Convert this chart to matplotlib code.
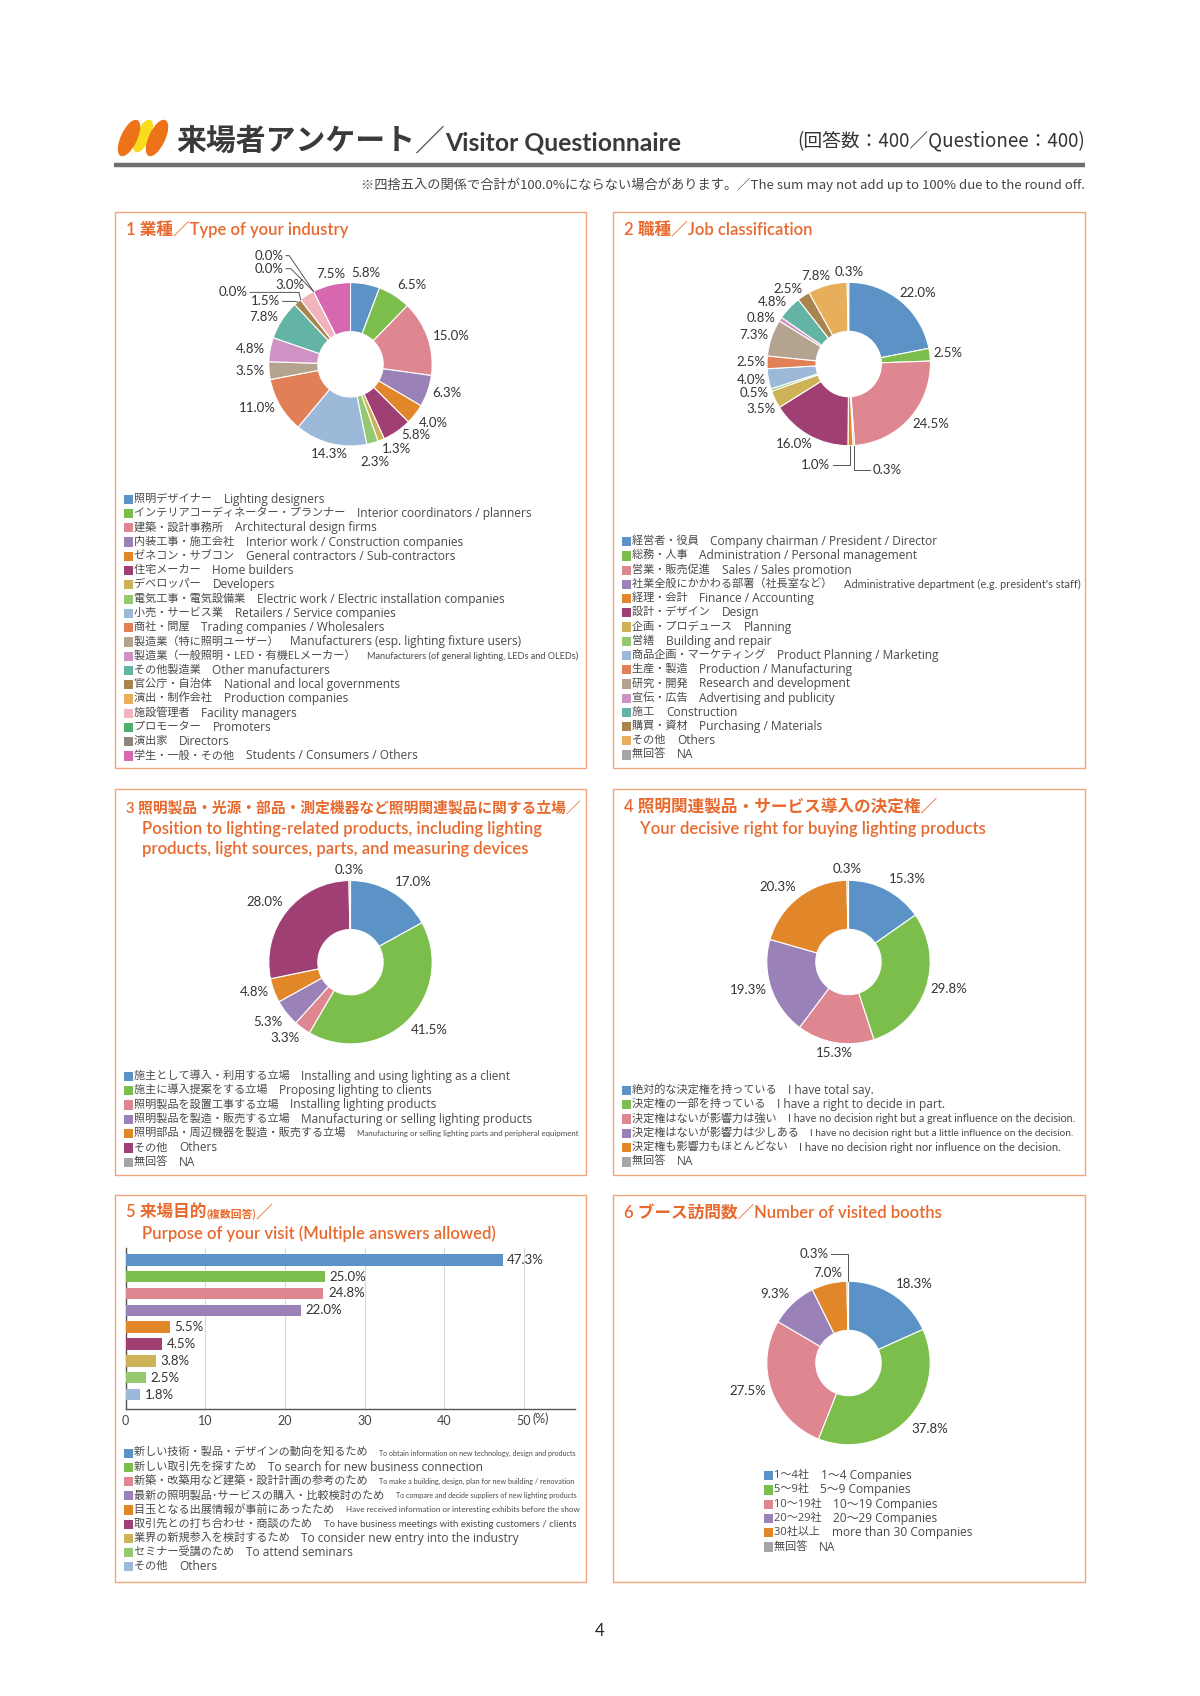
import numpy as np
import matplotlib
matplotlib.use("Agg")
import matplotlib.pyplot as plt
from matplotlib.patches import Rectangle, Ellipse
from matplotlib import font_manager as fm

# ---- data ----
ind_values = [5.8, 6.5, 15.0, 6.3, 4.0, 5.8, 1.3, 2.3, 14.3, 11.0, 3.5, 4.8, 7.8, 1.5, 0.0, 3.0, 0.0, 0.0, 7.5]
ind_jp = ["照明デザイナー", "インテリアコーディネーター・プランナー", "建築・設計事務所", "内装工事・施工会社",
          "ゼネコン・サブコン", "住宅メーカー", "デベロッパー", "電気工事・電気設備業", "小売・サービス業",
          "商社・問屋", "製造業（特に照明ユーザー）", "製造業（一般照明・LED・有機ELメーカー）", "その他製造業",
          "官公庁・自治体", "演出・制作会社", "施設管理者", "プロモーター", "演出家", "学生・一般・その他"]
ind_en = ["Lighting designers", "Interior coordinators / planners", "Architectural design firms",
          "Interior work / Construction companies", "General contractors / Sub-contractors", "Home builders",
          "Developers", "Electric work / Electric installation companies", "Retailers / Service companies",
          "Trading companies / Wholesalers", "Manufacturers (esp. lighting fixture users)",
          "Manufacturers (of general lighting, LEDs and OLEDs)", "Other manufacturers",
          "National and local governments", "Production companies", "Facility managers", "Promoters",
          "Directors", "Students / Consumers / Others"]

job_values = [22.0, 2.5, 24.5, 0.3, 1.0, 16.0, 3.5, 0.5, 4.0, 2.5, 7.3, 0.8, 4.8, 2.5, 7.8, 0.3]
job_jp = ["経営者・役員", "総務・人事", "営業・販売促進", "社業全般にかかわる部署（社長室など）", "経理・会計",
          "設計・デザイン", "企画・プロデュース", "営繕", "商品企画・マーケティング", "生産・製造", "研究・開発",
          "宣伝・広告", "施工", "購買・資材", "その他", "無回答"]
job_en = ["Company chairman / President / Director", "Administration / Personal management",
          "Sales / Sales promotion", "Administrative department (e.g. president's staff)", "Finance / Accounting",
          "Design", "Planning", "Building and repair", "Product Planning / Marketing",
          "Production / Manufacturing", "Research and development", "Advertising and publicity",
          "Construction", "Purchasing / Materials", "Others", "NA"]

pos_values = [17.0, 41.5, 3.3, 5.3, 4.8, 28.0, 0.3]
pos_jp = ["施主として導入・利用する立場", "施主に導入提案をする立場", "照明製品を設置工事する立場",
          "照明製品を製造・販売する立場", "照明部品・周辺機器を製造・販売する立場", "その他", "無回答"]
pos_en = ["Installing and using lighting as a client", "Proposing lighting to clients",
          "Installing lighting products", "Manufacturing or selling lighting products",
          "Manufacturing or selling lighting parts and peripheral equipment", "Others", "NA"]

dec_values = [15.3, 29.8, 15.3, 19.3, 20.3, 0.3]
dec_jp = ["絶対的な決定権を持っている", "決定権の一部を持っている", "決定権はないが影響力は強い",
          "決定権はないが影響力は少しある", "決定権も影響力もほとんどない", "無回答"]
dec_en = ["I have total say.", "I have a right to decide in part.",
          "I have no decision right but a great influence on the decision.",
          "I have no decision right but a little influence on the decision.",
          "I have no decision right nor influence on the decision.", "NA"]

pur_values = [47.3, 25.0, 24.8, 22.0, 5.5, 4.5, 3.8, 2.5, 1.8]
pur_jp = ["新しい技術・製品・デザインの動向を知るため", "新しい取引先を探すため",
          "新築・改築用など建築・設計計画の参考のため", "最新の照明製品･サービスの購入・比較検討のため",
          "目玉となる出展情報が事前にあったため", "取引先との打ち合わせ・商談のため",
          "業界の新規参入を検討するため", "セミナー受講のため", "その他"]
pur_en = ["To obtain information on new technology, design and products", "To search for new business connection",
          "To make a building, design, plan for new building / renovation",
          "To compare and decide suppliers of new lighting products",
          "Have received information or interesting exhibits before the show",
          "To have business meetings with existing customers / clients",
          "To consider new entry into the industry", "To attend seminars", "Others"]
pur_ticks = [0, 10, 20, 30, 40, 50]

booth_values = [18.3, 37.8, 27.5, 9.3, 7.0, 0.3]
booth_jp = ["1～4社", "5～9社", "10～19社", "20～29社", "30社以上", "無回答"]
booth_en = ["1～4 Companies", "5～9 Companies", "10～19 Companies", "20～29 Companies",
            "more than 30 Companies", "NA"]

# ---- colours ----
BLUE, GREEN, PINK, PURPLE = "#5B93C6", "#7BBE4C", "#DE8791", "#9A82B8"
ORANGE, PLUM, MUSTARD, LGREEN = "#E2862A", "#A03F74", "#CDB258", "#94C871"
LBLUE, CORAL, TAUPE, ORCHID = "#9CB9D9", "#E17F57", "#B4A48F", "#CE93C4"
TEAL, BROWN, LORANGE, LPINK = "#63B4A4", "#A9844F", "#E7AE5C", "#F1B4BC"
MGREEN, GBROWN, MAGENTA, GRAY = "#4FAE6E", "#8D867B", "#D767AE", "#A6A6A6"

ind_colors = [BLUE, GREEN, PINK, PURPLE, ORANGE, PLUM, MUSTARD, LGREEN, LBLUE, CORAL, TAUPE, ORCHID,
              TEAL, BROWN, LORANGE, LPINK, MGREEN, GBROWN, MAGENTA]
job_colors = [BLUE, GREEN, PINK, PURPLE, ORANGE, PLUM, MUSTARD, LGREEN, LBLUE, CORAL, TAUPE, ORCHID,
              TEAL, BROWN, LORANGE, GRAY]
pos_colors = [BLUE, GREEN, PINK, PURPLE, ORANGE, PLUM, GRAY]
dec_colors = [BLUE, GREEN, PINK, PURPLE, ORANGE, GRAY]
pur_colors = [BLUE, GREEN, PINK, PURPLE, ORANGE, PLUM, MUSTARD, LGREEN, LBLUE]
booth_colors = [BLUE, GREEN, PINK, PURPLE, ORANGE, GRAY]

TITLE_C = "#E8692D"
BORDER = "#F0A47E"
TXT = "#4a4a4a"
JP = ["Noto Sans CJK JP", "DejaVu Sans"]
LEG = ["Open Sans", "Noto Sans CJK JP"]
LAT = ["Lato", "Noto Sans CJK JP"]
_names = {f.name for f in fm.fontManager.ttflist}
NARROW = ["Liberation Sans Narrow"] if "Liberation Sans Narrow" in _names else ["Lato"]

W, H = 1200, 1696
fig = plt.figure(figsize=(W / 100, H / 100), dpi=100)
fig.patch.set_facecolor("white")
ax0 = fig.add_axes([0, 0, 1, 1])
ax0.set_xlim(0, W)
ax0.set_ylim(H, 0)
ax0.axis("off")
rend = fig.canvas.get_renderer()


def seq(x, y, parts, max_right=None):
    t = None
    for s, fs, fam, wt, col in parts:
        t = ax0.text(x, y, s, fontsize=fs, family=fam, fontweight=wt, color=col, va="baseline")
        x = t.get_window_extent(rend).x1
    if max_right and x > max_right:
        bb = t.get_window_extent(rend)
        t.set_fontsize(t.get_fontsize() * (max_right - bb.x0) / bb.width)
    return x


def legend(x, y0, dy, cols, jp, en, narrow=(), right=None, fs=8, fs_en=8.6):
    for i, (c, j, e) in enumerate(zip(cols, jp, en)):
        y = y0 + i * dy
        ax0.add_patch(Rectangle((x, y - 4.6), 9.2, 9.2, facecolor=c, edgecolor="none"))
        t = ax0.text(x + 10.5, y, j + "\u3000", fontsize=fs, family=LEG, color=TXT, va="center")
        x2 = t.get_window_extent(rend).x1
        if i in narrow:
            t2 = ax0.text(x2, y, e, fontsize=fs, family=NARROW, color=TXT, va="center")
            w = t2.get_window_extent(rend).width
            if x2 + w > right:
                t2.set_fontsize(fs * (right - x2) / w)
        else:
            ax0.text(x2, y, e, fontsize=fs_en, family=LEG, color=TXT, va="center")


def donut(cx, cy, vals, cols, leaders=None, places=None, R=81.7):
    S = 1.8
    ax = fig.add_axes([(cx - S * R) / W, 1 - (cy + S * R) / H, 2 * S * R / W, 2 * S * R / H])
    wedges, _ = ax.pie(vals, colors=cols, startangle=90, counterclock=False, radius=1,
                       wedgeprops=dict(width=0.6, edgecolor="white", linewidth=0.8))
    ax.set_xlim(-S, S)
    ax.set_ylim(-S, S)
    ax.axis("off")
    leaders = leaders or {}
    places = places or {}
    for i, (w, v) in enumerate(zip(wedges, vals)):
        a = np.deg2rad((w.theta1 + w.theta2) / 2)
        ux, uy = np.cos(a), np.sin(a)
        lab = f"{v:.1f}%"
        kw = dict(fontsize=9.5, family=LAT, color="#333333")
        if i in leaders:
            lx, ly, ex = leaders[i]
            left = lx < ux
            ax.text(lx, ly, lab, ha="right" if left else "left", va="center", **kw)
            sx = lx + 0.03 if left else lx - 0.03
            if ex is None:
                xs, ys = [sx, ux, ux], [ly, ly, uy]
            else:
                xs, ys = [sx, ex, ux], [ly, ly, uy]
            ax.plot(xs, ys, color="#555555", lw=0.7)
        elif i in places:
            px, py = places[i]
            ax.text(px, py, lab, ha="center", va="center", **kw)
        else:
            ha = "left" if ux > 0.3 else ("right" if ux < -0.3 else "center")
            va = "bottom" if uy > 0.6 else ("top" if uy < -0.6 else "center")
            ax.text(1.06 * ux, 1.06 * uy, lab, ha=ha, va=va, **kw)
    return ax


# ---- header ----
ax0.add_patch(Ellipse((143, 136), 13, 34, angle=25, color="#F7DD1E"))
ax0.add_patch(Ellipse((129, 138), 15, 38, angle=25, color="#EE7318"))
ax0.add_patch(Ellipse((157, 138), 15, 38, angle=25, color="#EE7318"))
seq(176, 150, [("来場者アンケート", 21.5, JP, "bold", "#3a3a3a"),
               ("／", 21.5, JP, "normal", "#555555"),
               ("Visitor Questionnaire", 18, ["Lato"], "bold", "#3a3a3a")], max_right=682)
ax0.text(1085, 141, "(回答数：400／Questionee：400)", ha="right", va="center",
         fontsize=13.5, family=JP, color="#333333")
ax0.plot([114, 1085], [165, 165], color="#6f6f6f", lw=3.2, solid_capstyle="butt")
ax0.text(1085, 185, "※四捨五入の関係で合計が100.0%にならない場合があります。／The sum may not add up to 100% due to the round off.",
         ha="right", va="center", fontsize=9.5, family=JP, color="#444444")

# ---- panel frames ----
for x0, x1 in [(114.5, 586), (612.5, 1085)]:
    for y0, y1 in [(211.5, 768), (789, 1175), (1195, 1582)]:
        ax0.add_patch(Rectangle((x0, y0), x1 - x0, y1 - y0, fill=False, edgecolor=BORDER, lw=1.0))

TS = 12
tpart = lambda s, fs=TS: (s, fs, LAT, "semibold", TITLE_C)

# 1 industry
seq(125.7, 235, [tpart("1 業種／Type of your industry")])
donut(350.5, 364.3, ind_values, ind_colors,
      leaders={13: (-0.86, 0.77, -0.69), 14: (-1.26, 0.88, -0.63),
               16: (-0.82, 1.17, -0.73), 17: (-0.82, 1.33, -0.75)},
      places={5: (0.80, -0.86), 6: (0.56, -1.04), 7: (0.30, -1.19)})
legend(124, 499.3, 14.26, ind_colors, ind_jp, ind_en, narrow={11}, right=579)

# 2 job
seq(623.7, 235, [tpart("2 職種／Job classification")])
donut(848.7, 364, job_values, job_colors,
      leaders={3: (0.29, -1.30, None), 4: (-0.225, -1.24, None)},
      places={0: (0.85, 0.87), 1: (1.21, 0.13), 2: (1.01, -0.74), 5: (-0.67, -0.98),
              6: (-1.07, -0.55), 7: (-1.16, -0.36), 8: (-1.19, -0.19), 9: (-1.20, 0.02),
              10: (-1.16, 0.35), 11: (-1.07, 0.56), 12: (-0.94, 0.76), 13: (-0.74, 0.92),
              14: (-0.40, 1.08), 15: (0.0, 1.12)})
legend(622, 541.7, 14.22, job_colors, job_jp, job_en, narrow={3}, right=1079)

# 3 position
seq(125.7, 812, [tpart("3 照明製品・光源・部品・測定機器など照明関連製品に関する立場／", 10.6)])
seq(142.3, 834, [tpart("Position to lighting-related products, including lighting")])
seq(142.3, 854, [tpart("products, light sources, parts, and measuring devices")])
donut(350.5, 962.2, pos_values, pos_colors)
legend(124, 1076.3, 14.33, pos_colors, pos_jp, pos_en, narrow={4}, right=579)

# 4 decision
seq(623.7, 812, [tpart("4 照明関連製品・サービス導入の決定権／")])
seq(640.3, 834, [tpart("Your decisive right for buying lighting products")])
donut(848.5, 962, dec_values, dec_colors)
legend(622, 1090.3, 14.33, dec_colors, dec_jp, dec_en, narrow={2, 3, 4}, right=1076)

# 5 purpose (bar)
seq(125.7, 1217, [tpart("5 来場目的"), tpart("(複数回答)", 7.8), tpart("／")])
seq(142.3, 1239, [tpart("Purpose of your visit (Multiple answers allowed)")])
ax5 = fig.add_axes([125.7 / W, 1 - 1409 / H, (575 - 125.7) / W, (1409 - 1248) / H])
ypos = np.arange(len(pur_values))
ax5.barh(ypos, pur_values, height=0.68, color=pur_colors, zorder=3)
for yy, v in zip(ypos, pur_values):
    ax5.text(v + 0.6, yy, f"{v:.1f}%", va="center", ha="left", fontsize=9.5, family=LAT, color="#333333")
ax5.set_xlim(0, 56.4)
ax5.set_ylim(len(pur_values) - 1 + 0.86, -0.70)
ax5.set_yticks([])
ax5.set_xticks(pur_ticks)
ax5.set_xticklabels([str(t) for t in pur_ticks], family=LAT)
ax5.tick_params(axis="x", length=0, pad=4, labelsize=9, labelcolor="#444444")
ax5.grid(axis="x", color="#d9d9d9", lw=0.8, zorder=0)
ax5.set_facecolor("none")
for s in ["top", "right"]:
    ax5.spines[s].set_visible(False)
for s in ["left", "bottom"]:
    ax5.spines[s].set_color("#555555")
    ax5.spines[s].set_linewidth(1.0)
ax5.text(51.1, -0.062, "(%)", transform=ax5.get_xaxis_transform(), ha="left", va="center",
         fontsize=9, family=LAT, color="#444444")
legend(124, 1453.3, 14.17, pur_colors, pur_jp, pur_en, narrow={0, 2, 3, 4, 5}, right=578)

# 6 booths
seq(623.7, 1218, [tpart("6 ブース訪問数／Number of visited booths")])
donut(848.5, 1363, booth_values, booth_colors, leaders={5: (-0.24, 1.33, None)})
legend(764, 1475.7, 14.27, booth_colors, booth_jp, booth_en)

ax0.text(600, 1631, "4", ha="center", va="center", fontsize=12, family=LAT, color="#222222")

fig.savefig("out.png", dpi=100)
